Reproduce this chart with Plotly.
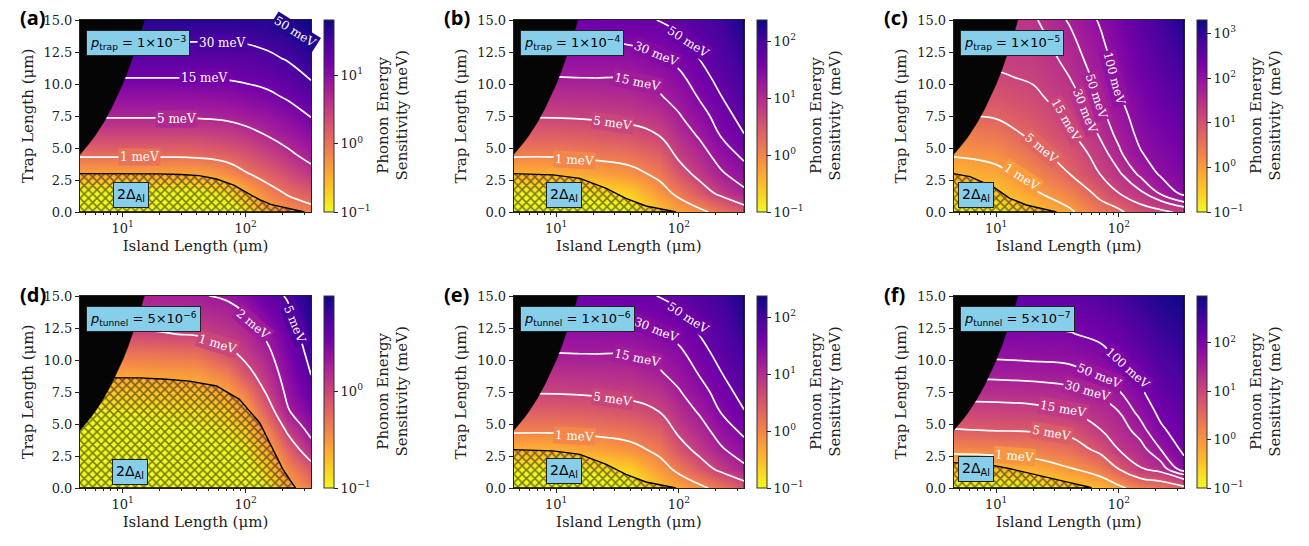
import math
import plotly.graph_objects as go
from plotly.colors import sequential

# ---------------- data ----------------
ISLAND_L = [4.5, 10, 20, 40, 70, 100, 150, 220, 340]          # um
TRAP_T = [0, 1.5, 3, 4.5, 6, 7.5, 9, 10.5, 12, 13.5, 15]       # um

# log10(phonon energy sensitivity / meV); rows follow TRAP_T, columns ISLAND_L
LOG_SENS_A = [
    [-1.40, -1.40, -1.40, -1.40, -1.25, -0.90, -0.50, -0.25, -0.15],
    [-1.05, -1.05, -1.05, -1.05, -0.85, -0.50, -0.15, 0.04, 0.22],
    [-0.42, -0.42, -0.42, -0.42, -0.25, -0.03, 0.15, 0.34, 0.58],
    [0.07, 0.07, 0.07, 0.09, 0.17, 0.28, 0.44, 0.63, 0.82],
    [0.41, 0.41, 0.41, 0.42, 0.49, 0.58, 0.71, 0.84, 1.00],
    [0.73, 0.73, 0.73, 0.74, 0.77, 0.83, 0.91, 1.03, 1.19],
    [0.95, 0.95, 0.95, 0.96, 0.99, 1.05, 1.11, 1.21, 1.34],
    [1.18, 1.18, 1.18, 1.18, 1.20, 1.23, 1.28, 1.36, 1.50],
    [1.34, 1.34, 1.34, 1.34, 1.35, 1.37, 1.42, 1.50, 1.63],
    [1.50, 1.50, 1.50, 1.50, 1.50, 1.51, 1.56, 1.62, 1.73],
    [1.65, 1.65, 1.65, 1.65, 1.65, 1.66, 1.68, 1.72, 1.81],
]
LOG_SENS_B = [
    [-1.30, -1.30, -1.20, -1.05, -0.56, -0.30, -0.10, 0.16, 0.47],
    [-0.95, -0.95, -0.85, -0.65, -0.18, 0.11, 0.50, 0.81, 1.10],
    [-0.42, -0.42, -0.30, -0.15, 0.12, 0.51, 0.84, 1.13, 1.36],
    [0.07, 0.07, 0.13, 0.21, 0.41, 0.79, 1.04, 1.33, 1.54],
    [0.41, 0.41, 0.46, 0.55, 0.71, 0.97, 1.23, 1.49, 1.69],
    [0.73, 0.73, 0.76, 0.81, 0.93, 1.15, 1.38, 1.59, 1.79],
    [0.95, 0.95, 0.97, 1.00, 1.15, 1.29, 1.51, 1.69, 1.89],
    [1.17, 1.17, 1.18, 1.19, 1.30, 1.42, 1.61, 1.78, 2.00],
    [1.34, 1.34, 1.34, 1.36, 1.45, 1.55, 1.71, 1.86, 2.10],
    [1.50, 1.50, 1.50, 1.53, 1.58, 1.66, 1.80, 1.94, 2.20],
    [1.65, 1.65, 1.67, 1.69, 1.70, 1.77, 1.89, 2.02, 2.30],
]
LOG_SENS_C = [
    [-1.00, -0.90, -0.45, -0.08, 0.46, 0.60, 1.00, 1.10, 1.25],
    [-0.60, -0.45, -0.07, 0.32, 0.83, 1.18, 1.43, 1.75, 2.10],
    [-0.27, -0.14, 0.24, 0.71, 1.18, 1.44, 1.76, 2.05, 2.20],
    [0.04, 0.16, 0.54, 0.91, 1.34, 1.64, 1.97, 2.15, 2.31],
    [0.35, 0.47, 0.78, 1.11, 1.50, 1.77, 2.08, 2.25, 2.43],
    [0.66, 0.74, 0.94, 1.25, 1.61, 1.87, 2.16, 2.35, 2.55],
    [0.89, 0.94, 1.10, 1.36, 1.72, 1.97, 2.25, 2.45, 2.67],
    [1.12, 1.13, 1.22, 1.48, 1.79, 2.05, 2.34, 2.55, 2.79],
    [1.28, 1.27, 1.31, 1.56, 1.87, 2.13, 2.42, 2.65, 2.91],
    [1.36, 1.35, 1.37, 1.64, 1.95, 2.20, 2.51, 2.75, 3.03],
    [1.42, 1.42, 1.44, 1.73, 2.03, 2.28, 2.60, 2.85, 3.15],
]
LOG_SENS_D = [
    [-1.40, -1.40, -1.35, -1.30, -1.25, -1.15, -0.95, -0.62, -0.35],
    [-1.30, -1.30, -1.25, -1.20, -1.15, -1.07, -0.80, -0.42, -0.12],
    [-1.20, -1.20, -1.15, -1.10, -1.05, -0.95, -0.62, -0.20, 0.19],
    [-1.08, -1.08, -1.04, -1.00, -0.92, -0.78, -0.40, 0.05, 0.38],
    [-0.95, -0.95, -0.91, -0.88, -0.78, -0.58, -0.15, 0.28, 0.49],
    [-0.78, -0.78, -0.75, -0.72, -0.58, -0.35, 0.04, 0.36, 0.61],
    [-0.56, -0.56, -0.54, -0.52, -0.35, -0.08, 0.14, 0.43, 0.71],
    [-0.32, -0.32, -0.30, -0.28, -0.08, 0.07, 0.24, 0.50, 0.77],
    [-0.04, -0.04, -0.02, 0.02, 0.09, 0.18, 0.35, 0.57, 0.83],
    [0.10, 0.10, 0.12, 0.15, 0.21, 0.29, 0.48, 0.65, 0.89],
    [0.22, 0.22, 0.25, 0.28, 0.33, 0.44, 0.61, 0.72, 0.95],
]
LOG_SENS_E = [
    [-1.30, -1.30, -1.20, -1.05, -0.56, -0.30, -0.10, 0.16, 0.47],
    [-0.95, -0.95, -0.85, -0.65, -0.18, 0.11, 0.50, 0.81, 1.10],
    [-0.42, -0.42, -0.30, -0.15, 0.12, 0.51, 0.84, 1.13, 1.36],
    [0.07, 0.07, 0.13, 0.21, 0.41, 0.79, 1.04, 1.33, 1.54],
    [0.41, 0.41, 0.46, 0.55, 0.71, 0.97, 1.23, 1.49, 1.69],
    [0.73, 0.73, 0.76, 0.81, 0.93, 1.15, 1.38, 1.59, 1.79],
    [0.95, 0.95, 0.97, 1.00, 1.15, 1.29, 1.51, 1.69, 1.89],
    [1.17, 1.17, 1.18, 1.19, 1.30, 1.42, 1.61, 1.78, 2.00],
    [1.34, 1.34, 1.34, 1.36, 1.45, 1.55, 1.71, 1.86, 2.10],
    [1.50, 1.50, 1.50, 1.53, 1.58, 1.66, 1.80, 1.94, 2.20],
    [1.65, 1.65, 1.67, 1.69, 1.70, 1.77, 1.89, 2.02, 2.30],
]
LOG_SENS_F = [
    [-1.05, -1.05, -0.95, -0.55, -0.40, -0.12, 0.25, 0.35, 0.60],
    [-0.45, -0.42, -0.30, -0.03, 0.26, 0.71, 1.15, 1.34, 1.85],
    [0.13, 0.18, 0.25, 0.43, 0.82, 1.18, 1.37, 1.70, 2.07],
    [0.67, 0.71, 0.74, 0.84, 1.16, 1.33, 1.59, 1.94, 2.18],
    [1.02, 1.04, 1.08, 1.18, 1.34, 1.48, 1.79, 2.09, 2.29],
    [1.32, 1.33, 1.35, 1.41, 1.53, 1.68, 1.95, 2.22, 2.40],
    [1.55, 1.56, 1.58, 1.62, 1.75, 1.87, 2.10, 2.35, 2.51],
    [1.76, 1.76, 1.78, 1.80, 1.91, 2.05, 2.25, 2.47, 2.62],
    [1.95, 1.96, 1.96, 1.98, 2.07, 2.20, 2.40, 2.60, 2.73],
    [2.11, 2.11, 2.12, 2.13, 2.22, 2.35, 2.55, 2.73, 2.84],
    [2.26, 2.26, 2.27, 2.28, 2.37, 2.50, 2.70, 2.85, 2.95],
]

# labelled contour levels (meV)
LEVELS_A = [1, 5, 15, 30, 50]
LEVELS_B = [1, 5, 15, 30, 50]
LEVELS_C = [1, 5, 15, 30, 50, 100]
LEVELS_D = [1, 2, 5]
LEVELS_E = [1, 5, 15, 30, 50]
LEVELS_F = [1, 5, 15, 30, 50, 100]

# colour-bar upper limits, log10(meV); lower limit is 10^-1
CBAR_TOP = [1.81, 2.37, 3.30, 0.98, 2.37, 2.97]

# 2*Delta_Al (hatched) region boundaries
HATCH_A_L = [4.5, 10, 20, 30, 42, 58, 80, 103, 130, 160, 200, 250, 300]
HATCH_A_T = [3.0, 3.0, 2.98, 2.93, 2.84, 2.58, 2.1, 1.5, 0.96, 0.6, 0.4, 0.2, 0.0]
HATCH_B_L = [4.5, 9.4, 15.6, 25.6, 37, 54, 70, 84, 95]
HATCH_B_T = [3.0, 2.9, 2.63, 1.85, 1.07, 0.47, 0.25, 0.1, 0.0]
HATCH_C_L = [4.5, 6.1, 9.4, 12.9, 17.6, 29, 31]
HATCH_C_T = [3.0, 2.76, 1.98, 1.07, 0.55, 0.1, 0.0]
HATCH_D_L = [4.5, 8.6, 14, 22.6, 35, 58, 89, 130, 167, 201, 243, 255]
HATCH_D_T = [8.62, 8.62, 8.6, 8.5, 8.35, 7.97, 6.93, 5.1, 3.0, 1.46, 0.29, 0.0]
HATCH_E_L = [4.5, 9.4, 15.6, 25.6, 37, 54, 70, 84, 95]
HATCH_E_T = [3.0, 2.9, 2.63, 1.85, 1.07, 0.47, 0.25, 0.1, 0.0]
HATCH_F_L = [4.5, 9.4, 13, 17.6, 25, 33, 45, 56, 60]
HATCH_F_T = [1.98, 1.77, 1.5, 1.2, 0.85, 0.55, 0.3, 0.1, 0.0]

# excluded region: trap longer than island (edge where L == T)
BLACK_EDGE = [4.5, 5, 5.5, 6, 7, 8, 9, 10, 11, 12, 13, 14, 15]

PANEL_TAGS = ["(a)", "(b)", "(c)", "(d)", "(e)", "(f)"]
P_LABELS = [
    "<i>p</i><sub>trap</sub> = 1×10<sup>−3</sup>",
    "<i>p</i><sub>trap</sub> = 1×10<sup>−4</sup>",
    "<i>p</i><sub>trap</sub> = 1×10<sup>−5</sup>",
    "<i>p</i><sub>tunnel</sub> = 5×10<sup>−6</sup>",
    "<i>p</i><sub>tunnel</sub> = 1×10<sup>−6</sup>",
    "<i>p</i><sub>tunnel</sub> = 5×10<sup>−7</sup>",
]
DELTA_LABEL = "2Δ<sub>Al</sub>"
CBAR_TITLE = "Phonon Energy<br>Sensitivity (meV)"

X_TICKS = [10, 100]
X_TICKTEXT = ["10<sup>1</sup>", "10<sup>2</sup>"]
X_MINOR = [5, 6, 7, 8, 9, 20, 30, 40, 50, 60, 70, 80, 90, 200, 300]
Y_TICKS = [0, 2.5, 5, 7.5, 10, 12.5, 15]
L_RANGE = [4.5, 340]
T_RANGE = [0, 15]

# ---------------- layout constants (positions / styles) ----------------
W, H = 1309, 546
PX_X = [(80, 311), (513.7, 744), (953.7, 1184)]
PX_Y = [(20, 212), (296, 488)]
CB_LEFT = [324, 757.3, 1197.3]
TAG_X = [18, 442, 882]
TAG_Y = [18, 294]
SERIF = "DejaVu Serif"
TXT = "#222222"

# where each contour label sits: (level, island L, trap T, text angle)
LABEL_SPOTS = [
    [(1, 13.7, 4.27, 0), (5, 27.3, 7.27, 0), (15, 46.5, 10.5, 0), (30, 64.6, 13.2, 0), (50, 255, 14.1, 32)],
    [(1, 14.2, 4.05, 3), (5, 28.7, 6.95, 8), (15, 46.3, 10.15, 12), (30, 66.2, 12.35, 22), (50, 120, 13.3, 33)],
    [(1, 16.1, 2.7, 33), (5, 23.3, 5.0, 40), (15, 37.3, 7.2, 60), (30, 53.2, 7.9, 68), (50, 66.2, 9.0, 72), (100, 92.2, 10.5, 75)],
    [(1, 59.6, 11.25, 17), (2, 114.8, 12.85, 40), (5, 250, 12.8, 68)],
    [(1, 14.2, 4.05, 3), (5, 28.7, 6.95, 8), (15, 46.3, 10.15, 12), (30, 66.2, 12.35, 22), (50, 120, 13.3, 33)],
    [(1, 14.2, 2.5, 5), (5, 28.2, 4.28, 10), (15, 35.5, 6.2, 10), (30, 56, 7.55, 16), (50, 69.7, 8.75, 22), (100, 118, 9.4, 42)],
]
DELTA_SPOTS = [(11.7, 1.33), (11.5, 1.33), (6.8, 1.35), (11.5, 1.27), (11.5, 1.33), (6.8, 1.46)]

Z_ALL = [LOG_SENS_A, LOG_SENS_B, LOG_SENS_C, LOG_SENS_D, LOG_SENS_E, LOG_SENS_F]
LEVELS_ALL = [LEVELS_A, LEVELS_B, LEVELS_C, LEVELS_D, LEVELS_E, LEVELS_F]
HATCH_ALL = [(HATCH_A_L, HATCH_A_T), (HATCH_B_L, HATCH_B_T), (HATCH_C_L, HATCH_C_T),
             (HATCH_D_L, HATCH_D_T), (HATCH_E_L, HATCH_E_T), (HATCH_F_L, HATCH_F_T)]

PLASMA_R = sequential.Plasma[::-1]


def hex_rgb(h):
    h = h.lstrip("#")
    return [int(h[i:i + 2], 16) for i in (0, 2, 4)]


def scale_color(frac):
    frac = min(max(frac, 0.0), 1.0)
    n = len(PLASMA_R) - 1
    pos = frac * n
    i = min(int(pos), n - 1)
    t = pos - i
    a, b = hex_rgb(PLASMA_R[i]), hex_rgb(PLASMA_R[i + 1])
    c = [round(a[j] + (b[j] - a[j]) * t) for j in range(3)]
    return f"rgb({c[0]},{c[1]},{c[2]})"


def sup(e):
    return "10<sup>" + ("−" + str(-e) if e < 0 else str(e)) + "</sup>"


fig = go.Figure()
layout = {}
annotations = []

for k in range(6):
    col, row = k % 3, k // 3
    n = k + 1
    xs = "" if n == 1 else str(n)
    xname, yname = "x" + xs, "y" + xs
    x0, x1 = PX_X[col]
    y0, y1 = PX_Y[row]
    xdom = [x0 / W, x1 / W]
    ydom = [1 - y1 / H, 1 - y0 / H]
    z = Z_ALL[k]
    top = CBAR_TOP[k]

    layout["xaxis" + xs] = dict(
        domain=xdom, anchor=yname, type="log",
        range=[math.log10(L_RANGE[0]), math.log10(L_RANGE[1])],
        tickmode="array", tickvals=X_TICKS, ticktext=X_TICKTEXT,
        ticks="outside", ticklen=4, tickwidth=1, tickcolor=TXT,
        minor=dict(tickmode="array", tickvals=X_MINOR, ticks="outside", ticklen=2,
                   tickwidth=0.8, tickcolor=TXT, showgrid=False),
        showline=True, mirror=True, linecolor=TXT, linewidth=1,
        showgrid=False, zeroline=False,
        tickfont=dict(family=SERIF, size=13, color=TXT),
        title=dict(text="Island Length (μm)", font=dict(family=SERIF, size=15, color=TXT), standoff=5),
    )
    layout["yaxis" + xs] = dict(
        domain=ydom, anchor=xname, range=T_RANGE,
        tickmode="array", tickvals=Y_TICKS, tickformat=".1f",
        ticks="outside", ticklen=4, tickwidth=1, tickcolor=TXT,
        showline=True, mirror=True, linecolor=TXT, linewidth=1,
        showgrid=False, zeroline=False,
        tickfont=dict(family=SERIF, size=13, color=TXT),
        title=dict(text="Trap Length (μm)", font=dict(family=SERIF, size=15, color=TXT), standoff=6),
    )

    exps = [e for e in range(-1, 5) if e <= top + 1e-9]
    fig.add_trace(go.Heatmap(
        x=ISLAND_L, y=TRAP_T, z=z, zsmooth="best",
        colorscale="Plasma", reversescale=True, zmin=-1, zmax=top,
        xaxis=xname, yaxis=yname, hoverinfo="skip",
        colorbar=dict(
            x=CB_LEFT[col] / W, xanchor="left", xpad=0,
            y=ydom[1], yanchor="top", ypad=0,
            len=(y1 - y0) / H, lenmode="fraction", thickness=10,
            outlinewidth=1, outlinecolor="#333333",
            tickmode="array", tickvals=exps, ticktext=[sup(e) for e in exps],
            ticks="outside", ticklen=4, tickcolor=TXT,
            tickfont=dict(family=SERIF, size=13, color=TXT),
        ),
    ))

    for lv in LEVELS_ALL[k]:
        lz = math.log10(lv)
        fig.add_trace(go.Contour(
            x=ISLAND_L, y=TRAP_T, z=z, autocontour=False,
            contours=dict(start=lz, end=lz, size=1, coloring="none", showlabels=False),
            line=dict(color="white", width=1.7, smoothing=1.3),
            showscale=False, xaxis=xname, yaxis=yname, hoverinfo="skip",
        ))

    hl, ht = HATCH_ALL[k]
    fig.add_trace(go.Scatter(
        x=list(hl) + [hl[0]], y=list(ht) + [ht[-1]],
        mode="lines", fill="toself", fillcolor="rgba(0,0,0,0)",
        fillpattern=dict(shape="x", fgcolor="black", bgcolor="rgba(0,0,0,0)", size=6, solidity=0.45),
        line=dict(color="black", width=1.4),
        xaxis=xname, yaxis=yname, hoverinfo="skip", showlegend=False,
    ))

    fig.add_trace(go.Scatter(
        x=BLACK_EDGE + [BLACK_EDGE[0]], y=BLACK_EDGE + [BLACK_EDGE[-1]],
        mode="lines", fill="toself", fillcolor="#050505",
        line=dict(color="#050505", width=0.5),
        xaxis=xname, yaxis=yname, hoverinfo="skip", showlegend=False,
    ))

    # contour labels (background = colour of the contour level -> gap in the line)
    for lv, lx, ty, ang in LABEL_SPOTS[k]:
        frac = (math.log10(lv) + 1) / (top + 1)
        annotations.append(dict(
            xref=xname, yref=yname, x=math.log10(lx), y=ty,
            xanchor="center", yanchor="middle", text=f"{lv} meV", textangle=ang,
            showarrow=False, font=dict(family=SERIF, size=12, color="white"),
            bgcolor=scale_color(frac), borderpad=1,
        ))

    annotations.append(dict(
        xref=xname + " domain", yref=yname + " domain", x=6 / (x1 - x0), y=1 - 10 / (y1 - y0),
        xanchor="left", yanchor="top", text=P_LABELS[k], showarrow=False,
        font=dict(family="DejaVu Sans", size=13, color="black"),
        bgcolor="#87CEEB", bordercolor="#222222", borderwidth=1, borderpad=3,
    ))
    dl, dt = DELTA_SPOTS[k]
    annotations.append(dict(
        xref=xname, yref=yname, x=math.log10(dl), y=dt,
        xanchor="center", yanchor="middle", text=DELTA_LABEL, showarrow=False,
        font=dict(family="DejaVu Sans", size=14, color="black"),
        bgcolor="#87CEEB", bordercolor="#222222", borderwidth=1, borderpad=3,
    ))
    annotations.append(dict(
        xref="paper", yref="paper", x=TAG_X[col] / W, y=1 - TAG_Y[row] / H,
        xanchor="left", yanchor="middle", text="<b>" + PANEL_TAGS[k] + "</b>", showarrow=False,
        font=dict(family="Open Sans", size=20, color="black"),
    ))
    annotations.append(dict(
        xref="paper", yref="paper", x=(CB_LEFT[col] + 68.5) / W, y=1 - (y0 + y1) / 2 / H,
        xanchor="center", yanchor="middle", text=CBAR_TITLE, textangle=-90, showarrow=False,
        font=dict(family=SERIF, size=15, color=TXT),
    ))

fig.update_layout(
    width=W, height=H,
    margin=dict(l=0, r=0, t=0, b=0, autoexpand=False),
    paper_bgcolor="white", plot_bgcolor="black",
    font=dict(family=SERIF, size=13, color=TXT),
    showlegend=False,
    annotations=annotations,
    **layout,
)

fig.write_html("out.html")
